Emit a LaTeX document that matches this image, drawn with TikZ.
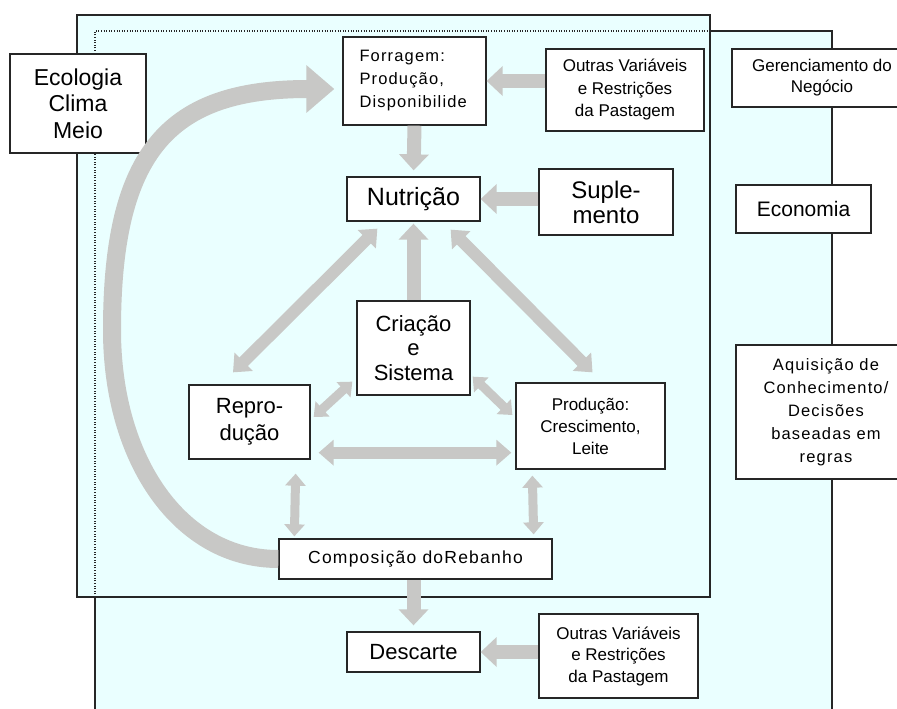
\documentclass[tikz,border=0pt]{standalone}
\usepackage{fontspec}
\setmainfont{Liberation Sans}
\newfontfamily\spaced[LetterSpace=7]{Liberation Sans}
\usepackage{tikz}
\usetikzlibrary{arrows.meta,calc}
\definecolor{paleaqua}{RGB}{234,255,255}
\definecolor{arrowgray}{RGB}{200,200,198}
\tikzset{
  box/.style={draw=black!85, line width=1.3pt, fill=white, inner sep=0pt, align=center},
  fat/.style={draw=arrowgray, line width=14pt, -{Triangle[width=29pt,length=16pt]}},
  fatboth/.style={draw=arrowgray, line width=12pt, {Triangle[width=25pt,length=15pt]}-{Triangle[width=25pt,length=15pt]}},
  thinboth/.style={draw=arrowgray, line width=9pt, {Triangle[width=20pt,length=12pt]}-{Triangle[width=20pt,length=12pt]}},
  loop/.style={draw=arrowgray, line width=18pt, -{Triangle[width=46pt,length=28pt]}},
}

\begin{document}
\begin{tikzpicture}[x=1pt,y=-1pt]
\clip (0,0) rectangle (897,709);
\fill[white] (0,0) rectangle (897,709);
\fill[paleaqua] (95,31) rectangle (832,715);
\draw[black!85, line width=1.3pt] (710,31) -- (832,31) -- (832,715);
\draw[black!85, line width=1.3pt] (95,597) -- (95,715);
\filldraw[fill=paleaqua, draw=black!85, line width=1.3pt] (77,15) rectangle (710,597);
\draw[black!85, line width=1.2pt, dash pattern=on 1pt off 1.6pt] (95,597) -- (95,31) -- (710,31);

\node[box, minimum width=136pt, minimum height=99pt, font=\fontsize{23}{26.5}\selectfont] (eco) at (78,103.5) {Ecologia\\Clima\\Meio};
\node[box, minimum width=143pt, minimum height=88pt, text width=110pt, align=left, font=\spaced\fontsize{16.5}{23}\selectfont] (forr) at (414.5,81) {Forragem:\\Produção,\\Disponibilide};
\node[box, minimum width=158pt, minimum height=82pt, font=\fontsize{17}{22.5}\selectfont] (outA) at (625,90) {Outras Variáveis\\e Restrições\\da Pastagem};
\node[box, minimum width=180pt, minimum height=58pt, font=\fontsize{17}{21}\selectfont] (gere) at (822,78) {Gerenciamento do\\Negócio};
\node[box, minimum width=133pt, minimum height=44pt, font=\fontsize{25}{30}\selectfont] (nutr) at (413.5,199) {Nutrição};
\node[box, minimum width=134pt, minimum height=66pt, font=\fontsize{24}{25}\selectfont] (supl) at (606,202) {Suple-\\mento};
\node[box, minimum width=135pt, minimum height=48pt, font=\fontsize{21}{25}\selectfont] (econ) at (803.5,209) {Economia};
\node[box, minimum width=113pt, minimum height=94pt, font=\fontsize{22}{24.5}\selectfont] (crsi) at (413.5,348) {Criação\\e\\Sistema};
\node[box, minimum width=121pt, minimum height=74pt, font=\fontsize{22}{27}\selectfont] (repr) at (249.5,422) {Repro-\\dução};
\node[box, minimum width=149pt, minimum height=86pt, font=\fontsize{17}{22}\selectfont] (prod) at (590.5,426) {Produção:\\Crescimento,\\Leite};
\node[box, minimum width=180pt, minimum height=134pt, font=\spaced\fontsize{16.5}{23}\selectfont] (aqui) at (826,412) {Aquisição de\\Conhecimento/\\Decisões\\baseadas em\\regras};
\node[box, minimum width=273pt, minimum height=40pt, font=\spaced\fontsize{17.5}{22}\selectfont] (comp) at (415.5,559) {Composição doRebanho};
\node[box, minimum width=133pt, minimum height=40pt, font=\fontsize{22}{26}\selectfont] (desc) at (413.5,652) {Descarte};
\node[box, minimum width=159pt, minimum height=84pt, font=\fontsize{17}{21.5}\selectfont] (outB) at (618.5,656) {Outras Variáveis\\e Restrições\\da Pastagem};

\draw[loop] (comp.west) .. controls (180,559) and (112,460) .. (112,330)
  .. controls (112,150) and (170,89) .. ($(forr.west)+(-8,8)$);
\draw[fat] (outA.west |- forr.east) -- (forr.east);
\draw[fat] (supl.west |- nutr.east) -- (nutr.east);
\draw[fat, shorten >=6pt] (forr.south) -- (nutr.north);
\draw[fat, shorten >=2pt] (crsi.north) -- (nutr.south);
\draw[fatboth] ($(repr.north)+(-16.5,-12)$) -- ($(nutr.south west)+(31,7)$);
\draw[fatboth] ($(nutr.south east)+(-30,8)$) -- ($(prod.north)+(2,-10)$);
\draw[thinboth] ($(repr.east)+(3,-5)$) -- ($(crsi.south west)+(-4,-14)$);
\draw[thinboth] ($(crsi.south east)+(2,-19)$) -- ($(prod.west)+(-3,-11)$);
\draw[fatboth] ($(repr.south east)+(8,-7)$) -- ($(prod.south west)+(-4,-17)$);
\draw[thinboth] ($(repr.south east)+(-15,14)$) -- ($(comp.north west)+(16,-2)$);
\draw[thinboth] ($(prod.south west)+(17,6)$) -- ($(comp.north east)+(-19,-4)$);
\draw[fat, shorten >=6pt] (desc.north |- comp.south) -- (desc.north);
\draw[fat] (outB.west |- desc.east) -- (desc.east);
\end{tikzpicture}
\end{document}
